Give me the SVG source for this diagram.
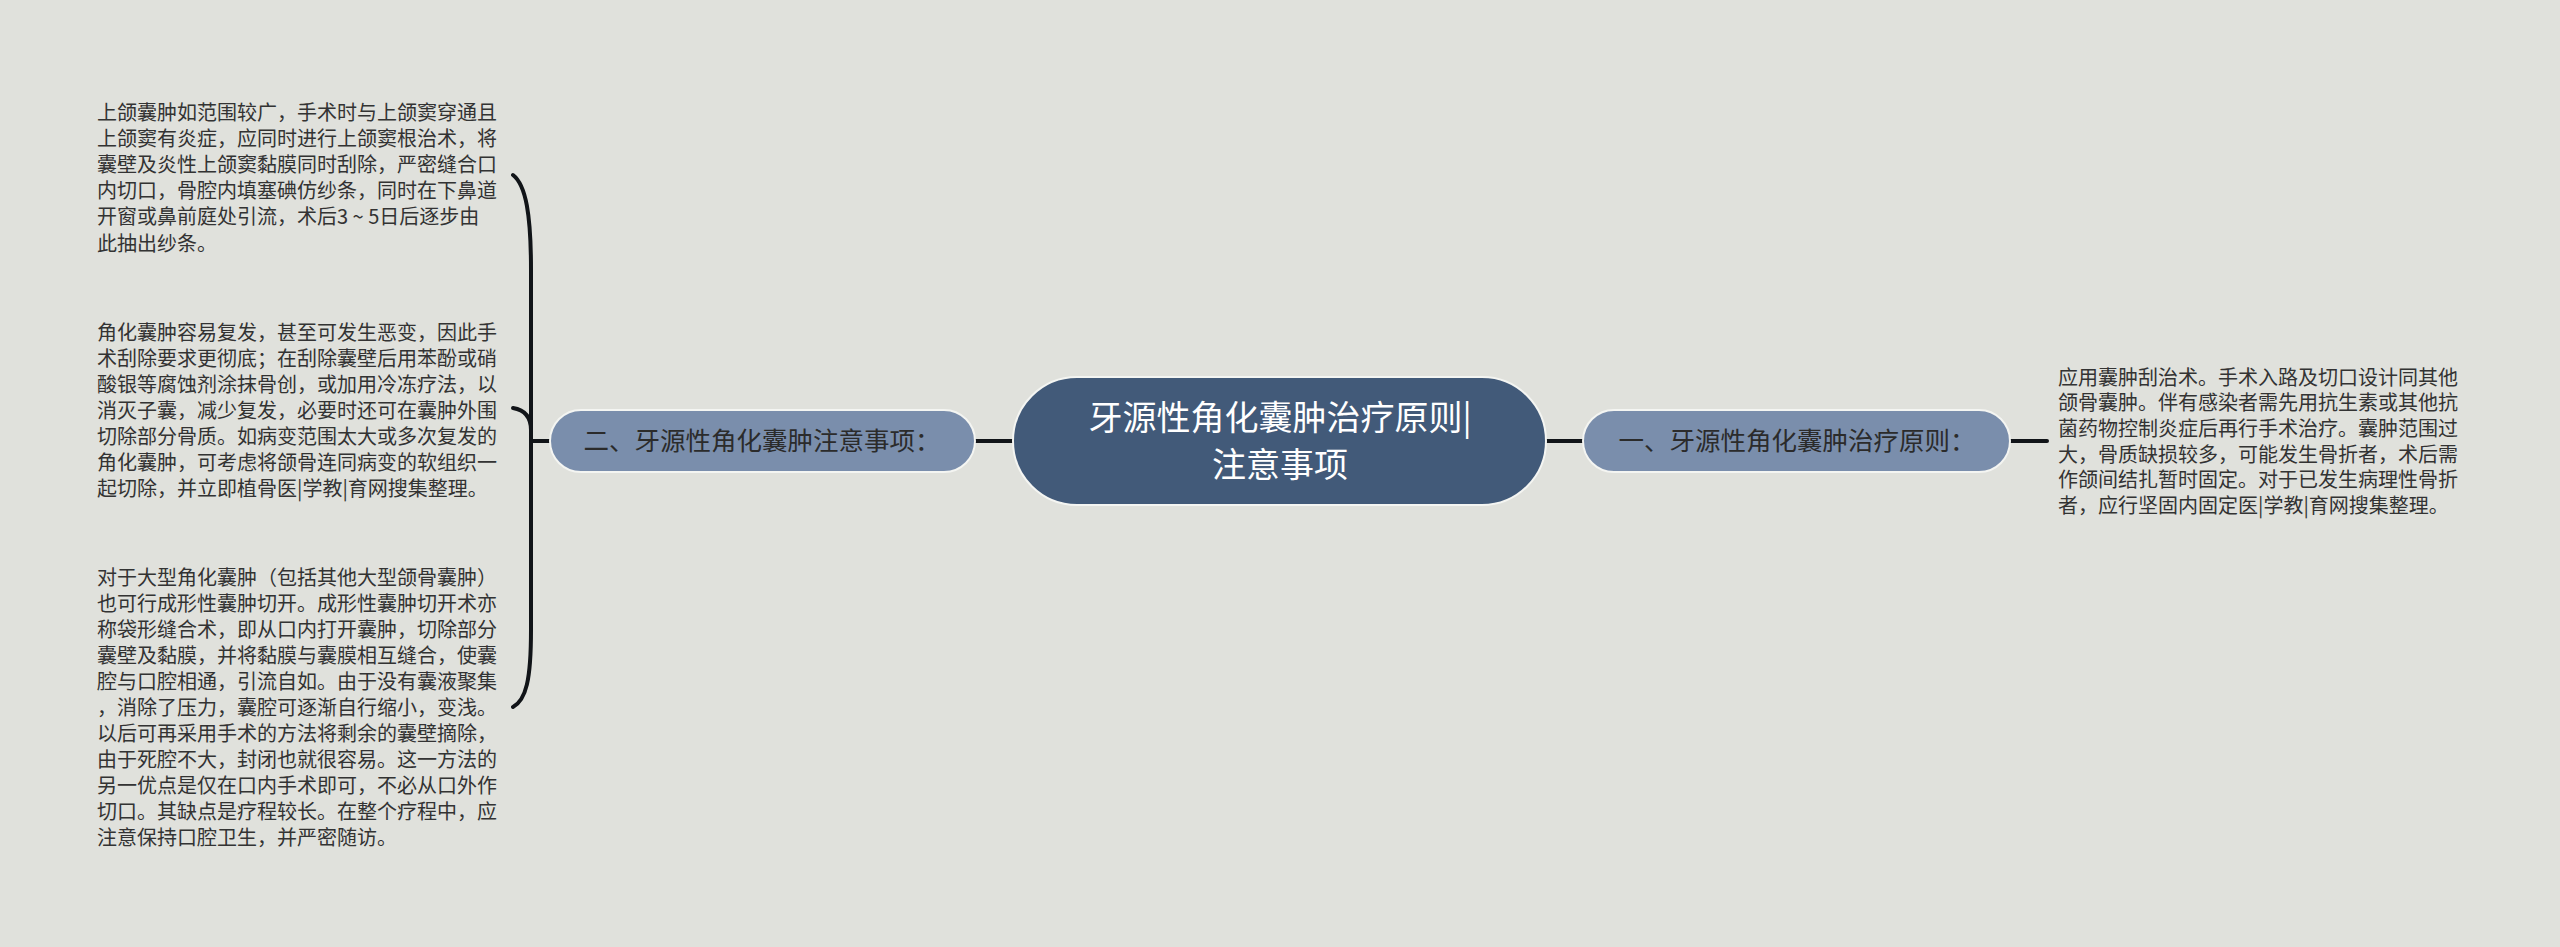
<svg xmlns="http://www.w3.org/2000/svg" width="2560" height="947" viewBox="0 0 2560 947">
<style>
.body{font-family:"Noto Sans CJK SC","Noto Sans",sans-serif;font-size:20px;fill:#333333}
.side{font-family:"Noto Sans CJK SC","Noto Sans",sans-serif;font-size:25.5px;fill:#2b2b2b}
.main{font-family:"Noto Sans CJK SC","Noto Sans",sans-serif;font-size:34px;fill:#ffffff}
.conn{fill:none;stroke:#111418;stroke-width:4;stroke-linecap:round}
.snode{fill:#7a8eac;stroke:#f4f5f2;stroke-width:2}
.cnode{fill:#425a79;stroke:#f4f5f2;stroke-width:2}
</style>
<rect x="0" y="0" width="2560" height="947" fill="#e0e1dc"/>
<g id="connectors">
<line class="conn" x1="975" y1="441" x2="1013" y2="441"/>
<line class="conn" x1="1546" y1="441" x2="1583" y2="441"/>
<line class="conn" x1="2010" y1="441" x2="2047" y2="441"/>
<line class="conn" x1="550" y1="441" x2="531" y2="441"/>
<path class="conn" d="M531,441 L531,270 C531,215 526,185 513,175"/>
<path class="conn" d="M531,441 L531,430 C531,418 525,410 513,408"/>
<path class="conn" d="M531,441 L531,630 C531,680 526,700 513,707"/>
</g>
<g id="center">
<rect class="cnode" x="1013" y="377" width="533" height="128" rx="64" ry="64"/>
<text class="main" x="1280" y="430" text-anchor="middle">牙源性角化囊肿治疗原则|</text>
<text class="main" x="1280" y="477" text-anchor="middle">注意事项</text>
</g>
<g id="node-right">
<rect class="snode" x="1583" y="410" width="427" height="62" rx="31" ry="31"/>
<text class="side" x="1797" y="450" text-anchor="middle">一、牙源性角化囊肿治疗原则：</text>
</g>
<g id="node-left">
<rect class="snode" x="550" y="410" width="425" height="62" rx="31" ry="31"/>
<text class="side" x="762" y="450" text-anchor="middle">二、牙源性角化囊肿注意事项：</text>
</g>
<g id="text-right">
<text class="body" x="2058" y="384.6">
<tspan x="2058">应用囊肿刮治术。手术入路及切口设计同其他</tspan>
<tspan x="2058" dy="25.7">颌骨囊肿。伴有感染者需先用抗生素或其他抗</tspan>
<tspan x="2058" dy="25.7">菌药物控制炎症后再行手术治疗。囊肿范围过</tspan>
<tspan x="2058" dy="25.7">大，骨质缺损较多，可能发生骨折者，术后需</tspan>
<tspan x="2058" dy="25.7">作颌间结扎暂时固定。对于已发生病理性骨折</tspan>
<tspan x="2058" dy="25.7">者，应行坚固内固定医|学教|育网搜集整理。</tspan>
</text>
</g>
<g id="text-left-1">
<text class="body" x="97" y="119.6">
<tspan x="97">上颌囊肿如范围较广，手术时与上颌窦穿通且</tspan>
<tspan x="97" dy="26.2">上颌窦有炎症，应同时进行上颌窦根治术，将</tspan>
<tspan x="97" dy="26.2">囊壁及炎性上颌窦黏膜同时刮除，严密缝合口</tspan>
<tspan x="97" dy="26.2">内切口，骨腔内填塞碘仿纱条，同时在下鼻道</tspan>
<tspan x="97" dy="26.2">开窗或鼻前庭处引流，术后3 ~ 5日后逐步由</tspan>
<tspan x="97" dy="26.2">此抽出纱条。</tspan>
</text>
</g>
<g id="text-left-2">
<text class="body" x="97" y="339.6">
<tspan x="97">角化囊肿容易复发，甚至可发生恶变，因此手</tspan>
<tspan x="97" dy="26">术刮除要求更彻底；在刮除囊壁后用苯酚或硝</tspan>
<tspan x="97" dy="26">酸银等腐蚀剂涂抹骨创，或加用冷冻疗法，以</tspan>
<tspan x="97" dy="26">消灭子囊，减少复发，必要时还可在囊肿外围</tspan>
<tspan x="97" dy="26">切除部分骨质。如病变范围太大或多次复发的</tspan>
<tspan x="97" dy="26">角化囊肿，可考虑将颌骨连同病变的软组织一</tspan>
<tspan x="97" dy="26">起切除，并立即植骨医|学教|育网搜集整理。</tspan>
</text>
</g>
<g id="text-left-3">
<text class="body" x="97" y="584.6">
<tspan x="97">对于大型角化囊肿（包括其他大型颌骨囊肿）</tspan>
<tspan x="97" dy="26">也可行成形性囊肿切开。成形性囊肿切开术亦</tspan>
<tspan x="97" dy="26">称袋形缝合术，即从口内打开囊肿，切除部分</tspan>
<tspan x="97" dy="26">囊壁及黏膜，并将黏膜与囊膜相互缝合，使囊</tspan>
<tspan x="97" dy="26">腔与口腔相通，引流自如。由于没有囊液聚集</tspan>
<tspan x="97" dy="26">，消除了压力，囊腔可逐渐自行缩小，变浅。</tspan>
<tspan x="97" dy="26">以后可再采用手术的方法将剩余的囊壁摘除，</tspan>
<tspan x="97" dy="26">由于死腔不大，封闭也就很容易。这一方法的</tspan>
<tspan x="97" dy="26">另一优点是仅在口内手术即可，不必从口外作</tspan>
<tspan x="97" dy="26">切口。其缺点是疗程较长。在整个疗程中，应</tspan>
<tspan x="97" dy="26">注意保持口腔卫生，并严密随访。</tspan>
</text>
</g>
</svg>
